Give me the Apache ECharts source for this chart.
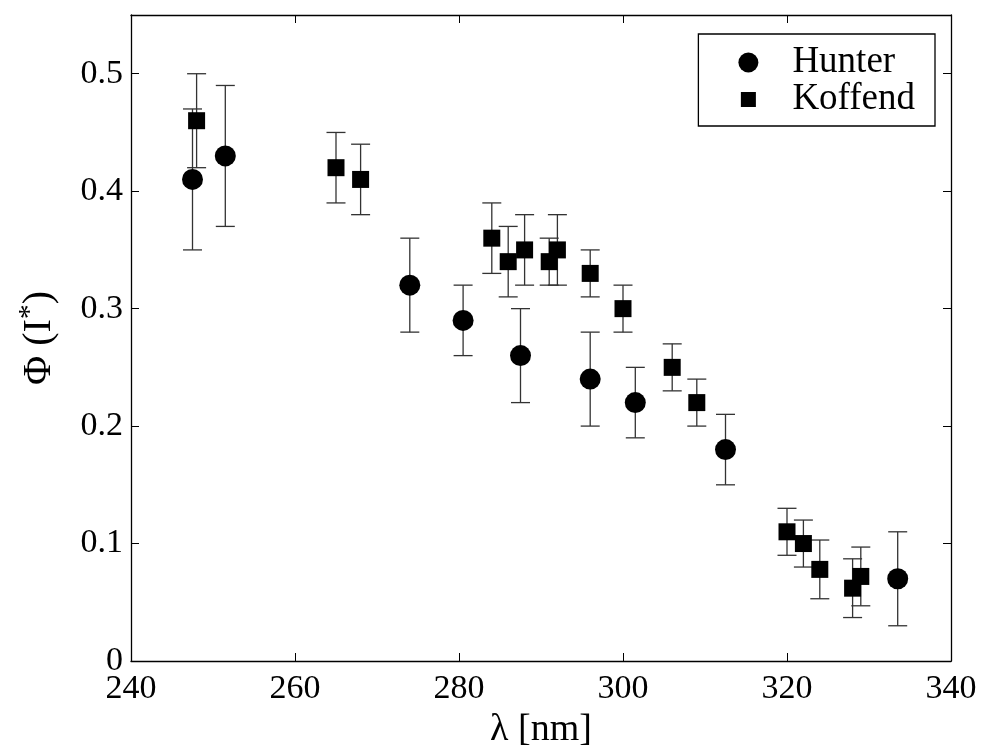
<!DOCTYPE html>
<html><head><meta charset="utf-8">
<script src="https://cdn.jsdelivr.net/npm/echarts@6/dist/echarts.min.js"></script>
<style>html,body{margin:0;padding:0;background:#fff}#c{width:981px;height:747px}</style>
</head><body><div id="c"></div>
<script>
const hunterX = [247.5, 251.5, 274.0, 280.5, 287.5, 296.0, 301.5, 312.5, 333.5];
const hunterY = [0.41, 0.43, 0.32, 0.29, 0.26, 0.24, 0.22, 0.18, 0.07];
const hunterErr = [0.06, 0.06, 0.04, 0.03, 0.04, 0.04, 0.03, 0.03, 0.04];
const koffendX = [248, 265, 268, 284, 286, 288, 291, 292, 296, 300, 306, 309, 320, 322, 324, 328, 329];
const koffendY = [0.46, 0.42, 0.41, 0.36, 0.34, 0.35, 0.34, 0.35, 0.33, 0.30, 0.25, 0.22, 0.11, 0.10, 0.078, 0.062, 0.072];
const koffendErr = [0.04, 0.03, 0.03, 0.03, 0.03, 0.03, 0.02, 0.03, 0.02, 0.02, 0.02, 0.02, 0.02, 0.02, 0.025, 0.025, 0.025];
const xTicks = [240, 260, 280, 300, 320, 340];
const yTicks = [0, 0.1, 0.2, 0.3, 0.4, 0.5];

const FONT = "'Liberation Serif','Times New Roman',serif";
const pts = (xs, ys) => xs.map((x, i) => [x, ys[i]]);
const errs = (xs, ys, es) => xs.map((x, i) => [x, ys[i] - es[i], ys[i] + es[i]]);

function errRender(params, api) {
  const x = api.value(0), lo = api.value(1), hi = api.value(2);
  const pLo = api.coord([x, lo]), pHi = api.coord([x, hi]);
  const w = 9.5;
  const style = {stroke: '#333', lineWidth: 1.3, fill: null};
  return {type: 'group', children: [
    {type: 'line', shape: {x1: pHi[0], y1: pHi[1], x2: pLo[0], y2: pLo[1]}, style: style},
    {type: 'line', shape: {x1: pHi[0] - w, y1: pHi[1], x2: pHi[0] + w, y2: pHi[1]}, style: style},
    {type: 'line', shape: {x1: pLo[0] - w, y1: pLo[1], x2: pLo[0] + w, y2: pLo[1]}, style: style}
  ]};
}

const axisLine = {show: true, onZero: false, lineStyle: {color: '#000', width: 1.3}};
const tick = {show: true, inside: true, length: 8, lineStyle: {color: '#000', width: 1}};
const lbl = {fontFamily: FONT, fontSize: 34, color: '#000'};

const chart = echarts.init(document.getElementById('c'), null, {renderer: 'canvas'});
chart.setOption({
  animation: false,
  backgroundColor: '#fff',
  grid: {left: 131, right: 30, top: 15, bottom: 86, containLabel: false, outerBoundsMode: 'none'},
  xAxis: [
    {type: 'value', min: 240, max: 340, interval: 20, position: 'bottom',
     axisLine: axisLine, axisTick: tick, splitLine: {show: false},
     axisLabel: Object.assign({margin: 11, formatter: v => xTicks.includes(v) ? String(v) : ''}, lbl),
     name: 'λ [nm]', nameLocation: 'middle', nameGap: 50,
     nameTextStyle: {fontFamily: FONT, fontSize: 38, color: '#000'}},
    {type: 'value', min: 240, max: 340, interval: 20, position: 'top',
     axisLine: axisLine, axisTick: tick, splitLine: {show: false}, axisLabel: {show: false}}
  ],
  yAxis: [
    {type: 'value', min: 0, max: 0.55, interval: 0.1, position: 'left',
     axisLine: axisLine, axisTick: tick, splitLine: {show: false},
     axisLabel: Object.assign({margin: 8, formatter: v => {
       const m = yTicks.find(t => Math.abs(t - v) < 1e-6);
       return m === undefined ? '' : String(m);
     }}, lbl),
     name: '{a|Φ (I}{s|*}{a|)}', nameLocation: 'middle', nameGap: 68, nameRotate: 90,
     nameTextStyle: {color: '#000', rich: {
       a: {fontFamily: FONT, fontSize: 40, color: '#000'},
       s: {fontFamily: FONT, fontSize: 30, color: '#000', verticalAlign: 'top', padding: [0, 0, 18, 0]}
     }}},
    {type: 'value', min: 0, max: 0.55, interval: 0.1, position: 'right',
     axisLine: axisLine, axisTick: tick, splitLine: {show: false}, axisLabel: {show: false}}
  ],
  legend: {
    orient: 'vertical', top: 34, right: 46,
    borderColor: '#000', borderWidth: 1.3, borderRadius: 0,
    padding: [10, 20, 8, 40], itemGap: 0, itemWidth: 20, itemHeight: 20,
    textStyle: {fontFamily: FONT, fontSize: 37, color: '#000', padding: [0, 0, 0, 29]},
    data: [{name: 'Hunter', icon: 'circle'},
           {name: 'Koffend', icon: 'path://M0,0L0.01,0M2.5,2.5h15v15h-15zM20,20L20,19.99'}]
  },
  series: [
    {type: 'custom', name: 'errH', renderItem: errRender, data: errs(hunterX, hunterY, hunterErr),
     encode: {x: 0, y: [1, 2]}, z: 1, silent: true},
    {type: 'custom', name: 'errK', renderItem: errRender, data: errs(koffendX, koffendY, koffendErr),
     encode: {x: 0, y: [1, 2]}, z: 1, silent: true},
    {type: 'scatter', name: 'Hunter', data: pts(hunterX, hunterY), symbol: 'circle', symbolSize: 21,
     itemStyle: {color: '#000', opacity: 1}, z: 3},
    {type: 'scatter', name: 'Koffend', data: pts(koffendX, koffendY), symbol: 'rect', symbolSize: 17,
     itemStyle: {color: '#000', opacity: 1}, z: 3}
  ]
});
</script>
</body></html>
